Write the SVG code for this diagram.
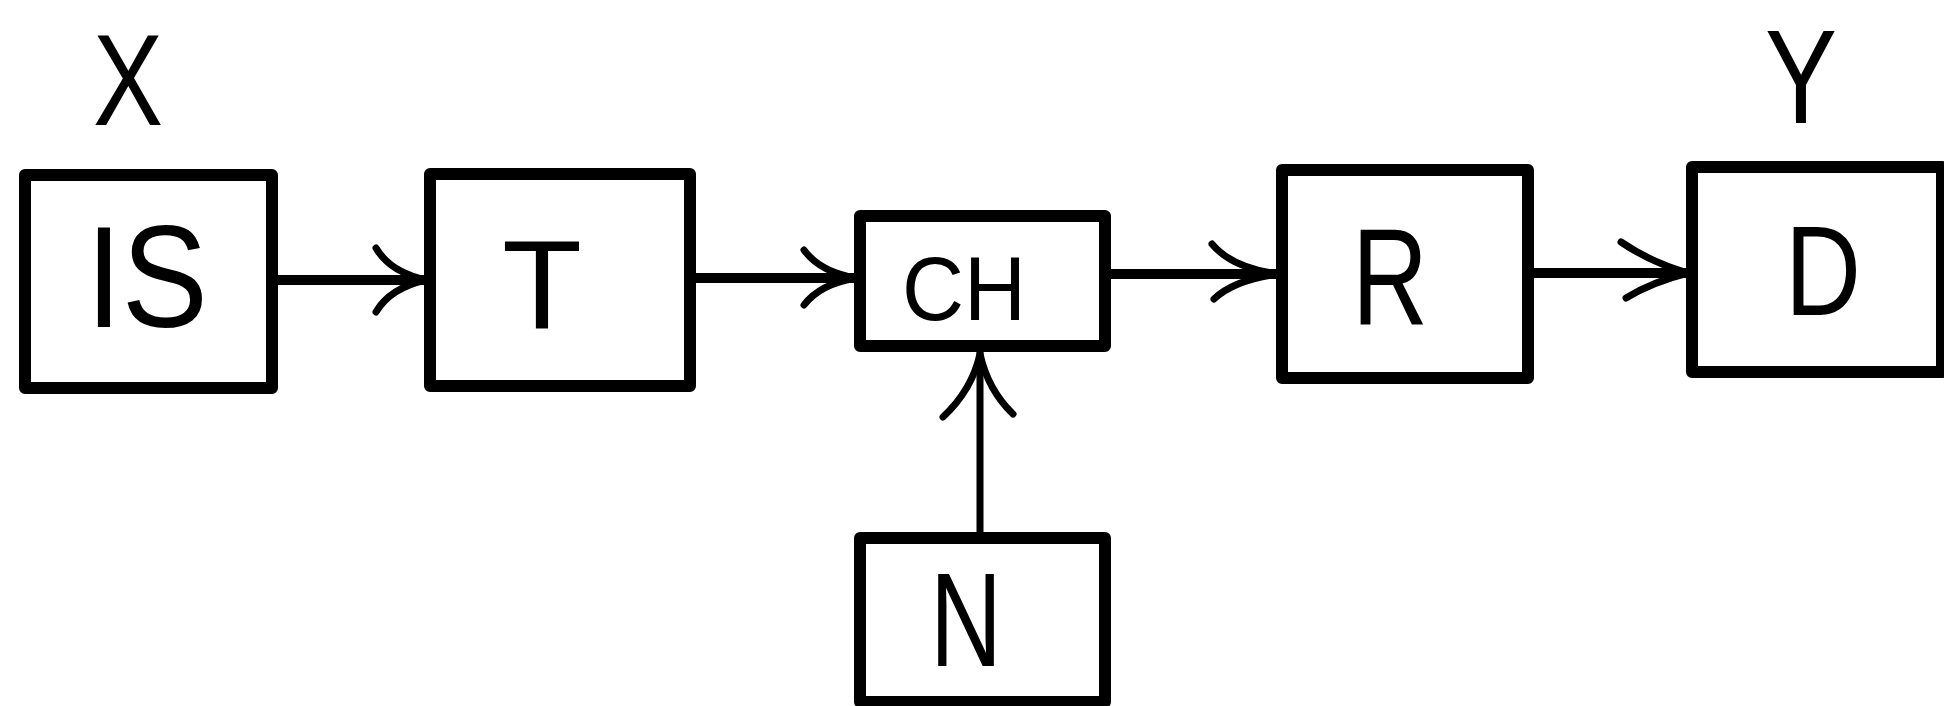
<svg xmlns="http://www.w3.org/2000/svg" width="1944" height="706" viewBox="0 0 1944 706">
<style>
.box{fill:none;stroke:#000;stroke-width:12;stroke-linejoin:round}
.lbl{font-family:"Liberation Sans",Arial,sans-serif;fill:#000;text-anchor:middle}
.ln{fill:none;stroke:#000;stroke-width:10;stroke-linecap:butt}
.ah{fill:none;stroke:#000;stroke-width:7;stroke-linecap:round;stroke-linejoin:round}
</style>
<rect width="1944" height="706" fill="#fff"/>
<g id="label-x"><text class="lbl" x="128" y="125" font-size="130" textLength="70" lengthAdjust="spacingAndGlyphs">X</text></g>
<g id="label-y"><text class="lbl" x="1801" y="123" font-size="134" textLength="72" lengthAdjust="spacingAndGlyphs">Y</text></g>
<g id="node-is">
<rect class="box" x="25" y="175" width="247" height="213"/>
<text class="lbl" x="147" y="327" font-size="145" textLength="122" lengthAdjust="spacingAndGlyphs">IS</text>
</g>
<g id="node-t">
<rect class="box" x="430" y="174" width="260" height="212"/>
<text class="lbl" x="542" y="328" font-size="127" textLength="80" lengthAdjust="spacingAndGlyphs">T</text>
</g>
<g id="node-ch">
<rect class="box" x="860" y="216" width="245" height="130"/>
<text class="lbl" x="964" y="320" font-size="91" textLength="124" lengthAdjust="spacingAndGlyphs">CH</text>
</g>
<g id="node-r">
<rect class="box" x="1282" y="170" width="246" height="208"/>
<text class="lbl" x="1390" y="324" font-size="137" textLength="76" lengthAdjust="spacingAndGlyphs">R</text>
</g>
<g id="node-d">
<rect class="box" x="1692" y="167" width="250" height="205"/>
<text class="lbl" x="1823" y="315" font-size="128" textLength="76" lengthAdjust="spacingAndGlyphs">D</text>
</g>
<g id="node-n">
<rect class="box" x="860" y="538" width="245" height="164"/>
<text class="lbl" x="966" y="666" font-size="134" textLength="72" lengthAdjust="spacingAndGlyphs">N</text>
</g>
<g id="connectors">
<line class="ln" x1="277" y1="280" x2="426" y2="280"/>
<path class="ah" d="M376,248 Q390,272 426,280 M376,312 Q390,288 426,280"/>
<line class="ln" x1="695" y1="278" x2="856" y2="278"/>
<path class="ah" d="M804,250 Q820,272 856,278 M804,305 Q820,284 856,278"/>
<line class="ln" x1="1110" y1="274" x2="1278" y2="274"/>
<path class="ah" d="M1212,244 Q1232,268 1278,274 M1214,299 Q1234,280 1278,274"/>
<line class="ln" x1="1533" y1="273" x2="1688" y2="273"/>
<path class="ah" d="M1621,242 Q1650,262 1688,273 M1626,298 Q1652,282 1688,273"/>
<line class="ln" x1="980" y1="533" x2="980" y2="352" style="stroke-width:7"/>
<path class="ah" d="M943,417 Q972,390 980,354 M1013,414 Q988,390 980,354"/>
</g>
</svg>
